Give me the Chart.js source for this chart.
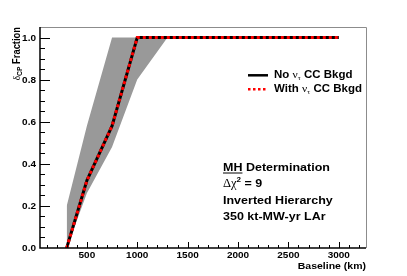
<!DOCTYPE html>
<html>
<head>
<meta charset="utf-8">
<script src="https://cdn.jsdelivr.net/npm/chart.js@4.4.1/dist/chart.umd.min.js"></script>
<style>
  html, body { margin: 0; padding: 0; background: #fff; }
  #wrap { width: 407px; height: 276px; }
</style>
</head>
<body>
<div id="wrap"><canvas id="chart" width="407" height="276"></canvas></div>
<script>
// values
const baselines = [300, 500, 750, 1000, 3000];
const noTauFraction = [0, 0.32, 0.58, 1.0, 1.0];
const withTauFraction = [0, 0.32, 0.58, 1.0, 1.0];
const bandBaselines = [300, 500, 750, 1000, 1300, 3000];
const bandUpper = [0.2, 0.58, 1.0, 1.0, 1.0, 1.0];
const bandLower = [0, 0.26, 0.48, 0.8, 1.0, 1.0];
const xTickValues = [500, 1000, 1500, 2000, 2500, 3000];
const yTickValues = [0, 0.2, 0.4, 0.6, 0.8, 1.0];
const yTickLabels = ["0.0", "0.2", "0.4", "0.6", "0.8", "1.0"];
const legendLabels = ["No", "With"];
const infoLines = ["MH Determination", "= 9", "Inverted Hierarchy", "350 kt-MW-yr LAr"];

const SANS = '"Liberation Sans", Arial, sans-serif';
const SERIF = '"Liberation Serif", "Times New Roman", serif';

function toPoints(xs, ys) {
  return xs.map((x, i) => ({ x: x, y: ys[i] }));
}

// draw a run of text pieces: [text, font, dy]
function putText(ctx, parts, x, y, align, sy) {
  let w = 0;
  parts.forEach((p) => {
    ctx.font = p[1];
    w += ctx.measureText(p[0]).width;
  });
  ctx.save();
  ctx.translate(x, y);
  ctx.scale(1, sy || 1);
  let cx = align === "right" ? -w : align === "center" ? -w / 2 : 0;
  ctx.textBaseline = "alphabetic";
  ctx.textAlign = "left";
  parts.forEach((p) => {
    ctx.font = p[1];
    ctx.fillText(p[0], cx, p[2] || 0);
    cx += ctx.measureText(p[0]).width;
  });
  ctx.restore();
  return w;
}

const decorPlugin = {
  id: "decor",
  afterDraw(chart) {
    const ctx = chart.ctx;
    const area = chart.chartArea;
    const xs = chart.scales.x;
    const ys = chart.scales.y;
    ctx.save();
    ctx.fillStyle = "#000";

    // frame: top and right grey
    ctx.strokeStyle = "#8c8c8c";
    ctx.lineWidth = 1;
    ctx.beginPath();
    ctx.moveTo(area.left, area.top + 0.5);
    ctx.lineTo(area.right + 0.5, area.top + 0.5);
    ctx.lineTo(area.right + 0.5, area.bottom);
    ctx.stroke();

    // axes
    ctx.strokeStyle = "#000";
    ctx.lineWidth = 1.5;
    ctx.beginPath();
    ctx.moveTo(area.left, area.top);
    ctx.lineTo(area.left, area.bottom);
    ctx.lineTo(area.right, area.bottom);
    ctx.stroke();

    // ticks, pointing inward
    ctx.lineWidth = 1;
    ctx.beginPath();
    for (let v = 100; v <= 3200; v += 100) {
      const px = Math.round(xs.getPixelForValue(v)) + 0.5;
      const len = v % 500 === 0 ? 6 : 3;
      ctx.moveTo(px, area.bottom);
      ctx.lineTo(px, area.bottom - len);
    }
    for (let i = 1; i <= 20; i++) {
      const v = i * 0.05;
      const py = Math.round(ys.getPixelForValue(v)) + 0.5;
      const len = i % 4 === 0 ? 10 : 5;
      ctx.moveTo(area.left, py);
      ctx.lineTo(area.left + len, py);
    }
    ctx.stroke();

    // tick labels
    const tickFont = "bold 10px " + SANS;
    yTickValues.forEach((v, i) => {
      const py = ys.getPixelForValue(v);
      putText(ctx, [[yTickLabels[i], tickFont]], area.left - 4, py + 3.2, "right", 0.85);
    });
    xTickValues.forEach((v) => {
      const px = xs.getPixelForValue(v);
      putText(ctx, [[String(v), tickFont]], px, area.bottom + 9.5, "center", 0.85);
    });

    // axis titles
    putText(ctx, [["Baseline (km)", "bold 10.5px " + SANS]], area.right, 269, "right", 0.85);

    ctx.save();
    ctx.translate(19.5, area.top);
    ctx.rotate(-Math.PI / 2);
    ctx.scale(0.85, 1);
    putText(ctx, [
      ["\u03b4", "11px " + SERIF],
      ["CP", "bold 8px " + SANS, 2.5],
      [" Fraction", "bold 11px " + SANS]
    ], 0, 0, "right");
    ctx.restore();

    // legend
    ctx.lineWidth = 2.5;
    ctx.strokeStyle = "#000";
    ctx.beginPath();
    ctx.moveTo(248, 75.3);
    ctx.lineTo(268, 75.3);
    ctx.stroke();
    ctx.strokeStyle = "#ff0000";
    ctx.setLineDash([2.5, 2.5]);
    ctx.beginPath();
    ctx.moveTo(248, 89.3);
    ctx.lineTo(268, 89.3);
    ctx.stroke();
    ctx.setLineDash([]);
    const legFont = "bold 11.5px " + SANS;
    [77.5, 91.7].forEach((by, i) => {
      putText(ctx, [
        [legendLabels[i] + " ", legFont],
        ["\u03bd", "11.5px " + SERIF],
        ["\u03c4", "7.5px " + SERIF, 2.5],
        [" CC Bkgd", legFont]
      ], 274, by, "left", 0.9);
    });

    // info text block
    const infoFont = "bold 12.5px " + SANS;
    const mhW = putText(ctx, [["MH", infoFont]], 223, 170.5, "left", 0.93);
    putText(ctx, [[infoLines[0].slice(2), infoFont]], 223 + mhW, 170.5, "left", 0.93);
    ctx.lineWidth = 1;
    ctx.strokeStyle = "#000";
    ctx.beginPath();
    ctx.moveTo(223, 173);
    ctx.lineTo(223 + mhW, 173);
    ctx.stroke();
    putText(ctx, [
      ["\u0394", "12.5px " + SERIF],
      ["\u03c7", "12.5px " + SERIF],
      ["2", "bold 8px " + SANS, -5],
      [" " + infoLines[1], infoFont]
    ], 223, 187, "left", 0.93);
    putText(ctx, [[infoLines[2], infoFont]], 223, 204, "left", 0.93);
    putText(ctx, [[infoLines[3], infoFont]], 223, 219.5, "left", 0.93);

    ctx.restore();
  }
};

new Chart(document.getElementById("chart"), {
  type: "line",
  data: {
    datasets: [
      {
        label: "With nu_tau CC Bkgd",
        data: toPoints(baselines, withTauFraction),
        borderColor: "#ff0000",
        borderWidth: 3,
        borderDash: [3, 3],
        pointRadius: 0,
        fill: false,
        tension: 0
      },
      {
        label: "No nu_tau CC Bkgd",
        data: toPoints(baselines, noTauFraction),
        borderColor: "#000000",
        borderWidth: 3,
        pointRadius: 0,
        fill: false,
        tension: 0
      },
      {
        label: "band upper",
        data: toPoints(bandBaselines, bandUpper),
        borderWidth: 0,
        borderColor: "rgba(0,0,0,0)",
        backgroundColor: "#999999",
        pointRadius: 0,
        fill: "+1",
        tension: 0
      },
      {
        label: "band lower",
        data: toPoints(bandBaselines, bandLower),
        borderWidth: 0,
        borderColor: "rgba(0,0,0,0)",
        pointRadius: 0,
        fill: false,
        tension: 0
      }
    ]
  },
  options: {
    responsive: false,
    animation: false,
    layout: { padding: { left: 40, right: 41, top: 27, bottom: 28 } },
    plugins: {
      legend: { display: false },
      tooltip: { enabled: false },
      filler: { propagate: false }
    },
    scales: {
      x: { type: "linear", min: 35, max: 3270, display: false },
      y: { type: "linear", min: 0, max: 1.05, display: false }
    }
  },
  plugins: [decorPlugin]
});
</script>
</body>
</html>
